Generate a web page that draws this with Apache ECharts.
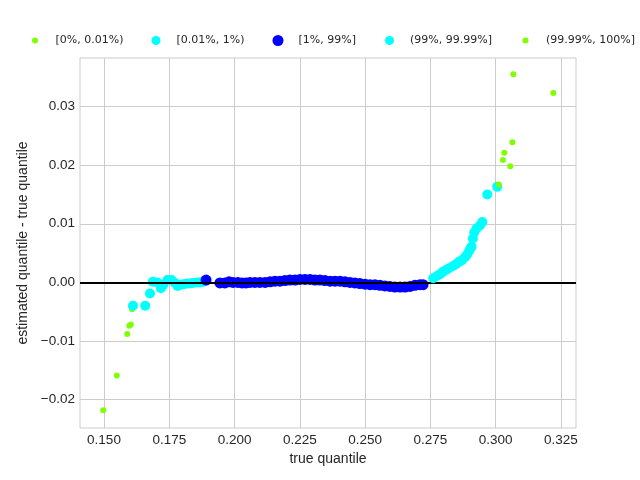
<!DOCTYPE html>
<html>
<head>
<meta charset="utf-8">
<script src="https://cdn.jsdelivr.net/npm/echarts@6/dist/echarts.min.js"></script>
<style>html,body{margin:0;padding:0;background:#fff}#c{width:640px;height:480px}</style>
</head>
<body>
<div id="c"></div>
<script>
var seriesNames = ['[0%, 0.01%)', '[0.01%, 1%)', '[1%, 99%]', '(99%, 99.99%]', '(99.99%, 100%]'];
var xTicks = [0.150, 0.175, 0.200, 0.225, 0.250, 0.275, 0.300, 0.325];
var yTicks = [-0.02, -0.01, 0.00, 0.01, 0.02, 0.03];

var lowTailX = [0.1497, 0.1549, 0.1589, 0.1597, 0.1603, 0.1608];
var lowTailY = [-0.0218, -0.0159, -0.0088, -0.0074, -0.0072, -0.0046];

var lowEdgeX = [0.1611, 0.1658, 0.1676, 0.1687, 0.1704, 0.1718, 0.1727, 0.1743, 0.1759, 0.1772, 0.1782, 0.1795, 0.1806, 0.1818, 0.1829, 0.1841, 0.1855, 0.1868, 0.1880];
var lowEdgeY = [-0.0040, -0.0040, -0.0019, 0.0001, 0.0000, -0.0010, -0.0004, 0.0004, 0.0004, -0.0001, -0.0006, -0.0004, -0.0003, -0.0002, -0.0002, -0.0001, 0.0000, 0.0000, 0.0001];

var bodyX = [0.1891, 0.1944, 0.1963, 0.1979, 0.1994, 0.2013, 0.2029, 0.2044, 0.2059, 0.2078, 0.2097, 0.2117, 0.2136, 0.2155, 0.2174, 0.2193, 0.2212, 0.2232, 0.2251, 0.2270, 0.2289, 0.2308, 0.2327, 0.2346, 0.2366, 0.2385, 0.2404, 0.2423, 0.2442, 0.2461, 0.2480, 0.2500, 0.2519, 0.2538, 0.2557, 0.2576, 0.2595, 0.2614, 0.2634, 0.2653, 0.2672, 0.2691, 0.2710, 0.2722];
var bodyY = [0.0004, -0.0001, -0.0001, 0.0001, 0.0000, 0.0000, -0.0001, -0.0001, 0.0000, 0.0000, 0.0000, 0.0000, 0.0001, 0.0002, 0.0002, 0.0003, 0.0004, 0.0004, 0.0005, 0.0005, 0.0005, 0.0004, 0.0004, 0.0003, 0.0002, 0.0002, 0.0002, 0.0001, 0.0000, -0.0001, -0.0002, -0.0003, -0.0004, -0.0004, -0.0005, -0.0006, -0.0007, -0.0008, -0.0008, -0.0008, -0.0007, -0.0005, -0.0004, -0.0004];

var highEdgeX = [0.2761, 0.2775, 0.2787, 0.2798, 0.2810, 0.2821, 0.2837, 0.2848, 0.2860, 0.2871, 0.2883, 0.2890, 0.2898, 0.2902, 0.2908, 0.2913, 0.2918, 0.2927, 0.2940, 0.2949, 0.2968, 0.3006];
var highEdgeY = [0.0007, 0.0011, 0.0014, 0.0018, 0.0021, 0.0024, 0.0028, 0.0031, 0.0035, 0.0038, 0.0043, 0.0047, 0.0053, 0.0057, 0.0061, 0.0075, 0.0085, 0.0092, 0.0097, 0.0103, 0.0150, 0.0163];

var highTailX = [0.3012, 0.3028, 0.3033, 0.3056, 0.3064, 0.3068, 0.3221];
var highTailY = [0.0167, 0.0209, 0.0221, 0.0198, 0.0239, 0.0355, 0.0323];

function zip(a, b) { return a.map(function (v, i) { return [v, b[i]]; }); }

var FONT = "'Liberation Sans', Arial, sans-serif";
var LFONT = "'DejaVu Sans', sans-serif";
var TXT = '#262626';
var colors = ['#7fff00', '#00ffff', '#0000ff', '#00ffff', '#7fff00'];
var sizes = [6, 10, 11, 10, 6];
var legendSizes = [6, 9, 11, 9, 6];
var legendCenters = [34, 155, 277, 388.5, 524.5];
var datasets = [zip(lowTailX, lowTailY), zip(lowEdgeX, lowEdgeY), zip(bodyX, bodyY), zip(highEdgeX, highEdgeY), zip(highTailX, highTailY)];

var chart = echarts.init(document.getElementById('c'), null, { renderer: 'canvas' });

var series = [{
  type: 'line', data: [], z: 1, silent: true,
  markLine: {
    silent: true, symbol: 'none', animation: false,
    label: { show: false },
    lineStyle: { color: '#000000', width: 2, type: 'solid' },
    emphasis: { disabled: true },
    data: [{ yAxis: 0 }]
  }
}];
seriesNames.forEach(function (n, i) {
  series.push({
    name: n, type: 'scatter', data: datasets[i], z: 2 + i,
    symbol: 'circle', symbolSize: sizes[i],
    itemStyle: { color: colors[i], opacity: 1 },
    emphasis: { disabled: true }
  });
});

chart.setOption({
  animation: false,
  backgroundColor: '#ffffff',
  color: colors,
  textStyle: { fontFamily: FONT, color: TXT },
  legend: seriesNames.map(function (n, i) {
    return {
      data: [n], left: legendCenters[i] - legendSizes[i] / 2 + 1, top: 35, padding: 0,
      icon: 'circle', itemWidth: 31, itemHeight: legendSizes[i], selectedMode: false,
      textStyle: { fontFamily: LFONT, fontSize: 11, color: TXT, padding: 0 }
    };
  }),
  grid: { left: 80, right: 64, top: 58, bottom: 52, show: true, borderColor: '#cccccc', borderWidth: 1, backgroundColor: '#ffffff' },
  xAxis: {
    type: 'value', min: 0.14081, max: 0.33078,
    name: 'true quantile', nameLocation: 'middle', nameGap: 22,
    nameTextStyle: { fontFamily: FONT, fontSize: 14, color: TXT },
    axisLine: { show: false },
    axisTick: { show: false, customValues: xTicks },
    axisLabel: { customValues: xTicks, margin: 5, fontFamily: FONT, fontSize: 13.5, color: TXT,
      formatter: function (v) { return v.toFixed(3); } },
    splitLine: { show: true, lineStyle: { color: '#cccccc', width: 1 } }
  },
  yAxis: {
    type: 'value', min: -0.02485, max: 0.03829,
    name: 'estimated quantile - true quantile', nameLocation: 'middle', nameGap: 46,
    nameTextStyle: { fontFamily: FONT, fontSize: 14, color: TXT },
    axisLine: { show: false },
    axisTick: { show: false, customValues: yTicks },
    axisLabel: { customValues: yTicks, margin: 5, fontFamily: FONT, fontSize: 13.5, color: TXT,
      formatter: function (v) {
        if (Math.abs(v) < 1e-9) return '0.00';
        return (v < 0 ? '\u2212' : '') + Math.abs(v).toFixed(2);
      } },
    splitLine: { show: true, lineStyle: { color: '#cccccc', width: 1 } }
  },
  series: series
});
</script>
</body>
</html>
